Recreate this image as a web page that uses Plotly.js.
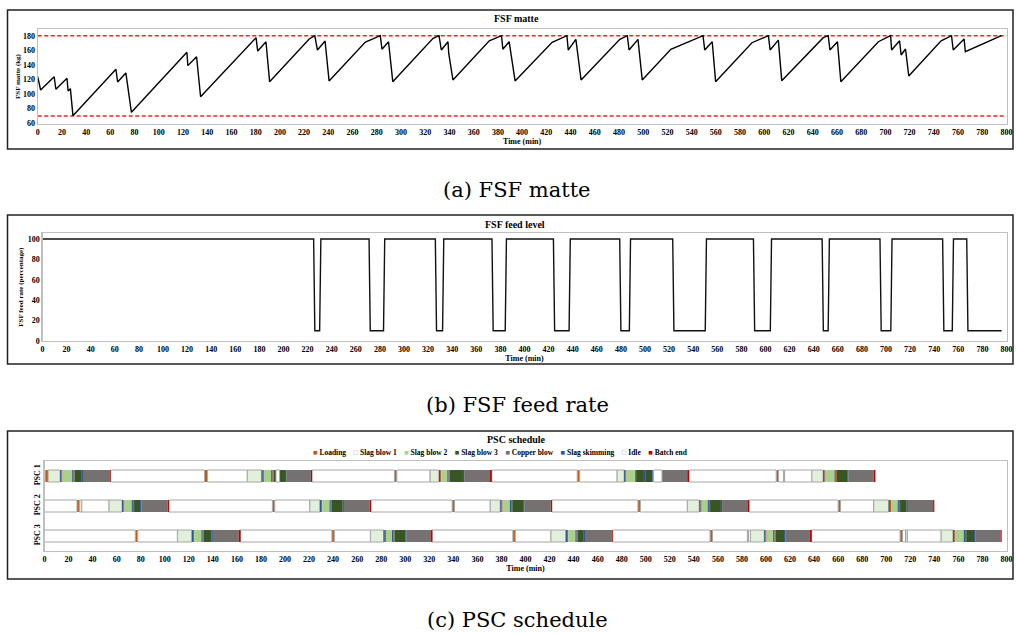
<!DOCTYPE html>
<html><head><meta charset="utf-8">
<script src="https://cdn.plot.ly/plotly-3.0.1.min.js"></script>
<style>html,body{margin:0;padding:0;background:#fff;}#chart{width:1016px;height:634px;}</style>
</head><body><div id="chart"></div>
<script>
// ---------- (a) FSF matte ----------
const matteTime = [0,2.4,13.6,15,24.2,25.1,27,29.1,64.6,66,72.8,74.1,77.4,123.2,124,131.2,134.5,180.3,181.7,188.5,191.5,224.2,228.8,231,237.3,240.6,270.6,282.9,284.3,289.7,293.2,326.5,331.4,333.3,338.8,339.4,342.9,372.9,383,384.1,389.3,394.2,424.8,437,438.1,444.4,448.7,480.7,486.9,488.3,495.7,499.2,522.8,549.4,550.8,557,559.8,589.8,603.4,604.8,611.6,614.4,648.7,652.8,654.2,660.4,663.2,694.2,704.3,705.1,711.7,713,716.6,719.3,746,754.6,756,765,766,795.8];
const matteKg   = [124,105.6,123.8,106.6,121.6,104.2,107.4,70.4,134,116.6,129,112.5,75,157.3,139,151.2,96.4,177.3,159,171.8,117,175.5,180,160.4,172.7,118,171.4,180,161.4,171.8,117,176.4,180,160.4,171.8,156,119.3,173,180,161.4,171.8,118,171,180,160.4,175,119.3,175,180,160.4,175,119.3,161.4,180,160.4,171.8,117,170.4,180,160.4,174,118.4,177.3,180,160.4,171.8,117,171.8,180,160.4,173,153.6,161.8,124.8,173,180,160.4,175.5,158,180];
const matteLimits = [70, 180];
const matteTicks = [60,80,100,120,140,160,180];

// ---------- (b) FSF feed rate ----------
const feedTime  = [0,225,226,230,231,271,272,283,284,326,327,332,333,373,374,384,385,424,425,437,438,479,480,487,488,523,524,550,551,590,591,604,605,647,648,652,653,695,696,704,705,747,748,755,756,767,768,796];
const feedLevel = [100,100,10,10,100,100,10,10,100,100,10,10,100,100,10,10,100,100,10,10,100,100,10,10,100,100,10,10,100,100,10,10,100,100,10,10,100,100,10,10,100,100,10,10,100,100,10,10];
const feedTicks = [0,20,40,60,80,100];

// ---------- (c) PSC schedule ----------
const stageCodes  = ['L','S1','S2','S3','C','K','I','E'];
const stageNames  = ['Loading','Slag blow 1','Slag blow 2','Slag blow 3','Copper blow','Slag skimming','Idle','Batch end'];
const stageColors = ['#C55A11','#E2EFDA','#A9D08E','#375623','#767171','#2F5597','#FFFFFF','#C00000'];
const converters  = ['PSC 1','PSC 2','PSC 3'];

const psc1Stages  = ['I','L','S1','K','L','S2','K','L','S3','K','C','E',
  'I','L','I','S1','K','L','S2','K','L','S3','I','S3','K','C','E',
  'I','L','I','S1','K','L','S2','K','L','S3','K','C','E',
  'I','L','I','S1','K','L','S2','L','S3','K','S3','K','I','C','E',
  'I','L','I','S1','I','S1','K','L','S2','K','L','S3','K','C','E'];
const psc1Minutes = [0.5,2.5,10,1,1,8,1,1,6,1,22,1,
  78,2.5,33,12,1,1,6,1,1,2,3,4.5,1,20.5,1,
  68.5,2,27.5,7.5,1,1,5,1,1,11,1,21.5,1.5,
  71,2,31,6,1,1,7,1,6.5,1,6,1,7,21,1.5,
  72.5,2,4,1,22.5,9.5,1,1,7.5,1,1,8.5,1,21,1.5];

const psc2Stages  = ['I','L','S1','I','S1','K','L','S2','K','L','S3','K','C','E',
  'I','L','I','S1','K','L','S2','K','L','S3','K','C','E',
  'I','L','I','S1','K','L','S2','K','L','S3','K','C','E',
  'I','L','I','S1','K','L','S2','K','L','S3','K','C','E',
  'I','L','I','S1','K','L','S2','K','L','S3','K','C','E'];
const psc2Minutes = [27,2,2,22.5,11,1,1,6,1,1,5,1,22,1,
  86,2,29,8.5,1,1,6,1,1,9,1,21.5,1,
  67.5,2,29.5,8.5,1,1,6,1,1,9,1,22,1,
  71.5,2,39,10,1,1,5,1,1,9,1,21,1.5,
  74,2,27.5,12.5,1,1,5.5,1,1,5.5,1,21,1];

const psc3Stages  = ['I','L','I','S1','K','L','S2','K','L','S3','K','C','E',
  'I','L','I','S1','K','L','S2','K','L','S3','K','C','E',
  'I','L','I','S1','K','L','S2','K','L','S3','K','C','E',
  'I','L','I','S1','I','S1','K','L','S2','K','L','S3','K','C','E',
  'I','L','I','S1','I','S1','K','L','S2','K','L','S3','K','C','E'];
const psc3Minutes = [75.5,2,33,12,1,1,6,1,1,6.5,1,21.5,1.5,
  76,2,30,11,1,1,5,1,1,9,1,20,1.5,
  67,2,29.5,12.5,1,1,6,1,1,5,1,22,1,
  81,2,29,1,1.5,11.5,1,1,5.5,1,1,7,1,20.5,1.5,
  73.5,2,2.5,1.5,28,10,1,1,7,1,1,6.5,1,21,1];

// ---------- layout helpers ----------
const W = 1016, H = 634;
const px = v => v / W;
const py = v => 1 - v / H;
const FONT = 'Liberation Serif, Times New Roman, serif';
const tickFont = {family: FONT, size: 8, color: '#000', weight: 'bold'};
const titleFont = {family: FONT, size: 8, color: '#000', weight: 'bold'};

const traces = [];
// (a) limits
matteLimits.forEach(v => traces.push({type:'scatter', mode:'lines', x:[0,800], y:[v,v], xaxis:'x', yaxis:'y',
  line:{color:'#FF2020', width:1.6, dash:'4px,2.5px'}, showlegend:false, hoverinfo:'skip'}));
traces.push({type:'scatter', mode:'lines', x:matteTime, y:matteKg, xaxis:'x', yaxis:'y',
  line:{color:'#000', width:1.4}, showlegend:false, name:'FSF matte'});
// (b)
traces.push({type:'scatter', mode:'lines', x:feedTime, y:feedLevel, xaxis:'x2', yaxis:'y2',
  line:{color:'#111', width:1.4}, showlegend:false, name:'FSF feed level'});
// (c)
const rows = [[psc1Stages, psc1Minutes],[psc2Stages, psc2Minutes],[psc3Stages, psc3Minutes]];
stageCodes.forEach((code, si) => {
  const xs = [], bs = [], ys = [];
  rows.forEach(([st, mins], ri) => {
    let t = 0;
    st.forEach((s, k) => { if (s === code) { xs.push(mins[k]); bs.push(t); ys.push(ri); } t += mins[k]; });
  });
  const bordered = (code === 'I' || code === 'S1');
  traces.push({type:'bar', orientation:'h', x:xs, base:bs, y:ys, width:0.4, xaxis:'x3', yaxis:'y3',
    name: stageNames[si], showlegend:false,
    marker:{color: stageColors[si], line:{color:'#a6a6a6', width: bordered ? 1 : 0}}});
});

function xAxis(l, r, anchor, withTitle) {
  return {domain:[px(l), px(r)], range:[0,800], dtick:20, tick0:0, anchor:anchor,
    showline:true, mirror:true, linecolor:'#bfbfbf', linewidth:1.2, showgrid:false, zeroline:false,
    ticks:'', tickfont:tickFont, automargin:false, ticklabeloverflow:'allow',
    title: withTitle ? {text:'Time (min)', font:titleFont, standoff:2} : {text:''}};
}
const layout = {
  width:W, height:H, margin:{l:0,r:0,t:0,b:0}, paper_bgcolor:'#fff', plot_bgcolor:'#fff',
  showlegend:false, barmode:'overlay', font:{family:FONT, color:'#000'},
  xaxis:  xAxis(37.7, 1006.5, 'y', true),
  yaxis:  {domain:[py(124), py(29)], range:[59,189.2], tickvals:matteTicks, anchor:'x',
           showline:true, mirror:true, linecolor:'#bfbfbf', linewidth:1.2, showgrid:false, zeroline:false,
           ticks:'', tickfont:tickFont, automargin:false,
           title:{text:'FSF matte (kg)', font:{family:FONT, size:7, color:'#000', weight:'bold'}, standoff:1}},
  xaxis2: xAxis(42.5, 1006.5, 'y2', true),
  yaxis2: {domain:[py(341), py(233.3)], range:[0,105.6], tickvals:feedTicks, anchor:'x2',
           showline:true, mirror:true, linecolor:'#bfbfbf', linewidth:1.2, showgrid:false, zeroline:false,
           ticks:'', tickfont:tickFont, automargin:false,
           title:{text:'FSF feed rate (percentage)', font:{family:FONT, size:7, color:'#000', weight:'bold'}, standoff:3}},
  xaxis3: xAxis(44.5, 1006.5, 'y3', true),
  yaxis3: {domain:[py(551), py(461)], range:[2.5,-0.5], tickvals:[0,1,2], ticktext:converters, tickangle:-90, anchor:'x3',
           showline:true, mirror:true, linecolor:'#bfbfbf', linewidth:1.2, showgrid:false, zeroline:false,
           ticks:'', tickfont:tickFont, automargin:false},
  shapes: [
    {type:'rect', xref:'paper', yref:'paper', x0:px(7.5), x1:px(1013), y0:py(149), y1:py(10), line:{color:'#222', width:1.5}},
    {type:'rect', xref:'paper', yref:'paper', x0:px(7.5), x1:px(1013), y0:py(364), y1:py(215), line:{color:'#222', width:1.5}},
    {type:'rect', xref:'paper', yref:'paper', x0:px(7.5), x1:px(1013), y0:py(579), y1:py(431), line:{color:'#222', width:1.5}}
  ],
  annotations: []
};
const ann = (text, x, y, size, weight, family) => layout.annotations.push({
  text, x:px(x), y:py(y), xref:'paper', yref:'paper', xanchor:'center', yanchor:'middle', showarrow:false,
  font:{family: family || FONT, size, color:'#000', weight: weight || 'normal'}});
ann('FSF matte', 516.7, 18, 10, 'bold');
ann('FSF feed level', 515, 224, 10, 'bold');
ann('PSC schedule', 516.7, 439, 10, 'bold');
ann('(a) FSF matte', 517, 190, 21, 'normal', 'DejaVu Serif');
ann('(b) FSF feed rate', 517, 405, 21, 'normal', 'DejaVu Serif');
ann('(c) PSC schedule', 517, 620, 21, 'normal', 'DejaVu Serif');
// legend for the schedule, built from the stage arrays
const legendText = stageNames.map((n, i) => {
  const c = stageColors[i];
  const light = (c === '#FFFFFF' || c === '#E2EFDA');
  const sym = light ? '<span style="color:#a0a0a0">□</span>' : `<span style="color:${c}">■</span>`;
  return sym + ' ' + n;
}).join('\u00a0\u00a0\u00a0\u00a0');
ann(legendText, 500, 452.7, 7.5, 'bold');

Plotly.newPlot('chart', traces, layout, {staticPlot:true});
</script></body></html>
